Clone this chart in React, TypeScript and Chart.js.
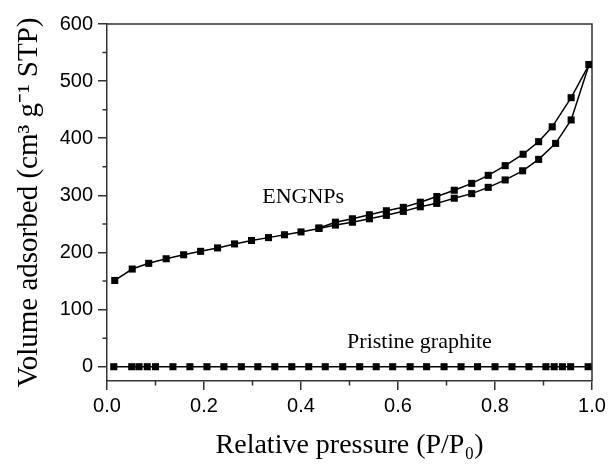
import React, { useEffect, useRef } from "react";
import { Chart, registerables } from "chart.js";

Chart.register(...registerables);

// ENGNPs adsorption branch
const adsX = [0.016, 0.052, 0.086, 0.122, 0.158, 0.193, 0.228, 0.263, 0.298, 0.333, 0.366, 0.400, 0.437, 0.471, 0.506, 0.541, 0.576, 0.611, 0.646, 0.680, 0.716, 0.752, 0.786, 0.821, 0.857, 0.890, 0.925, 0.957, 0.994];
const adsY = [151, 171, 181, 189, 196, 202, 208, 215, 221, 226, 231, 236, 242, 248, 253, 259, 265, 272, 280, 286, 295, 303, 314, 327, 343, 363, 391, 432, 529];

// ENGNPs desorption branch
const desX = [0.994, 0.957, 0.918, 0.890, 0.858, 0.821, 0.786, 0.752, 0.716, 0.680, 0.646, 0.611, 0.576, 0.541, 0.506, 0.471, 0.437];
const desY = [529, 471, 420, 394, 372, 352, 335, 321, 309, 298, 288, 279, 273, 266, 259, 253, 243];

// Pristine graphite
const priX = [0.014, 0.051, 0.066, 0.083, 0.100, 0.136, 0.171, 0.206, 0.241, 0.277, 0.311, 0.346, 0.381, 0.416, 0.450, 0.486, 0.521, 0.555, 0.589, 0.625, 0.659, 0.695, 0.730, 0.764, 0.800, 0.835, 0.870, 0.905, 0.922, 0.939, 0.956, 0.992];
const priY = [0, 0, 0, 0, 0, 0, 0, 0, 0, 0, 0, 0, 0, 0, 0, 0, 0, 0, 0, 0, 0, 0, 0, 0, 0, 0, 0, 0, 0, 0, 0, 0];

// Axes
const xMajorTicks = [0, 0.2, 0.4, 0.6, 0.8, 1.0];
const xMinorTicks = [0.1, 0.3, 0.5, 0.7, 0.9];
const yMajorTicks = [0, 100, 200, 300, 400, 500, 600];
const yMinorTicks = [50, 150, 250, 350, 450, 550];

const xTitle = "Relative pressure (P/P\u2080)";
const yTitle = "Volume adsorbed (cm\u00B3 g\u207B\u00B9 STP)";

const annotations = [
  { text: "ENGNPs", x: 0.32, y: 286 },
  { text: "Pristine graphite", x: 0.495, y: 32 },
];

const AXIS_COLOR = "#333333";

const pts = (xs: number[], ys: number[]) => xs.map((x, i) => ({ x, y: ys[i] }));

const decor = {
  id: "decor",
  beforeDatasetsDraw(chart: any) {
    const { ctx, chartArea, scales } = chart;
    const { left, right, top, bottom } = chartArea;
    const xs = scales.x;
    const ys = scales.y;
    ctx.save();
    ctx.strokeStyle = AXIS_COLOR;
    ctx.lineWidth = 1.5;
    ctx.beginPath();
    ctx.moveTo(left, top);
    ctx.lineTo(right, top);
    ctx.lineTo(right, bottom);
    ctx.stroke();
    ctx.beginPath();
    for (const v of yMinorTicks) {
      const py = ys.getPixelForValue(v);
      ctx.moveTo(left, py);
      ctx.lineTo(left - 4.5, py);
    }
    for (const v of xMinorTicks) {
      const px = xs.getPixelForValue(v);
      ctx.moveTo(px, bottom);
      ctx.lineTo(px, bottom + 4.5);
    }
    ctx.stroke();
    ctx.restore();
  },
  afterDatasetsDraw(chart: any) {
    const { ctx, scales } = chart;
    ctx.save();
    ctx.fillStyle = "#000";
    ctx.font = "22px 'Liberation Serif', serif";
    ctx.textAlign = "left";
    ctx.textBaseline = "alphabetic";
    for (const a of annotations) {
      ctx.fillText(a.text, scales.x.getPixelForValue(a.x), scales.y.getPixelForValue(a.y));
    }
    ctx.restore();
  },
};

export default function App() {
  const ref = useRef<HTMLCanvasElement>(null);
  useEffect(() => {
    if (!ref.current) return;
    const common = {
      borderColor: "#000",
      backgroundColor: "#000",
      borderWidth: 1.5,
      pointStyle: "rect" as const,
      pointRadius: 5,
      pointBorderWidth: 0,
      pointBackgroundColor: "#000",
      tension: 0,
      fill: false,
    };
    const chart = new Chart(ref.current, {
      type: "line",
      data: {
        datasets: [
          { label: "Pristine graphite", data: pts(priX, priY), ...common },
          { label: "ENGNPs adsorption", data: pts(adsX, adsY), ...common },
          { label: "ENGNPs desorption", data: pts(desX, desY), ...common },
        ],
      },
      options: {
        animation: false,
        responsive: true,
        maintainAspectRatio: false,
        layout: { padding: { top: 24, right: 19, left: 0, bottom: 0 } },
        plugins: { legend: { display: false }, tooltip: { enabled: false } },
        scales: {
          x: {
            type: "linear",
            min: 0,
            max: 1,
            afterBuildTicks: (s: any) => {
              s.ticks = xMajorTicks.map((v) => ({ value: v }));
            },
            afterFit: (s: any) => {
              s.height = 85;
            },
            ticks: {
              color: "#000",
              font: { family: "'Liberation Sans', Arial, sans-serif", size: 20 },
              padding: 4,
              maxRotation: 0,
              callback: (v: any) => Number(v).toFixed(1),
            },
            grid: { drawOnChartArea: false, drawTicks: true, tickLength: 9, color: AXIS_COLOR, lineWidth: 1.5 },
            border: { display: true, color: AXIS_COLOR, width: 1.5 },
            title: {
              display: true,
              text: xTitle,
              color: "#000",
              font: { family: "'Liberation Serif', 'Times New Roman', serif", size: 28 },
              padding: { top: 0, bottom: 4 },
            },
          },
          y: {
            type: "linear",
            min: -25,
            max: 600,
            afterBuildTicks: (s: any) => {
              s.ticks = yMajorTicks.map((v) => ({ value: v }));
            },
            afterFit: (s: any) => {
              s.width = 107;
            },
            ticks: {
              color: "#000",
              font: { family: "'Liberation Sans', Arial, sans-serif", size: 20 },
              padding: 5,
              callback: (v: any) => String(v),
            },
            grid: { drawOnChartArea: false, drawTicks: true, tickLength: 9, color: AXIS_COLOR, lineWidth: 1.5 },
            border: { display: true, color: AXIS_COLOR, width: 1.5 },
            title: {
              display: true,
              text: yTitle,
              color: "#000",
              font: { family: "'Liberation Serif', 'Times New Roman', serif", size: 29 },
              padding: { top: 12, bottom: 0 },
            },
          },
        },
      },
      plugins: [decor],
    });
    return () => chart.destroy();
  }, []);
  return (
    <div style={{ position: "absolute", left: 0, top: 0, width: "611px", height: "466px", background: "#fff" }}>
      <canvas ref={ref} />
    </div>
  );
}
